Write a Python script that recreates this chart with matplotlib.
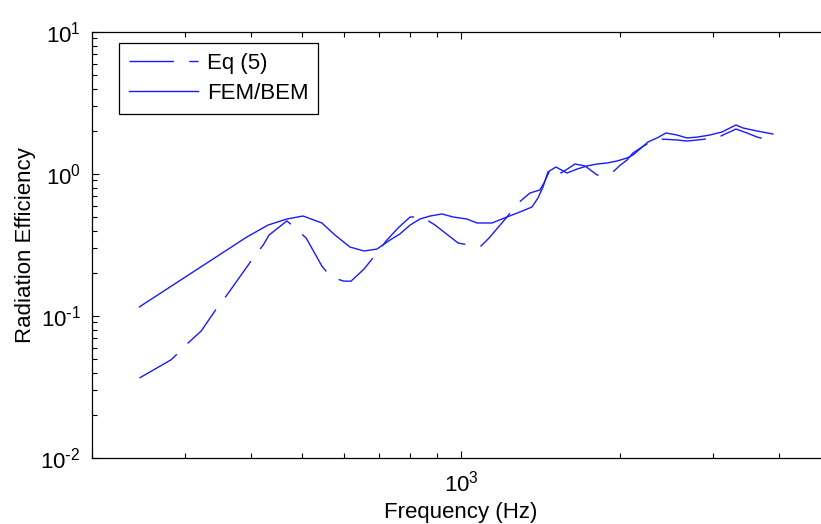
import matplotlib
matplotlib.use("Agg")
import numpy as np
import matplotlib.pyplot as plt
from matplotlib.ticker import NullFormatter, LogLocator, FuncFormatter

plt.rcParams['font.family'] = ['Liberation Sans', 'DejaVu Sans']
plt.rcParams['mathtext.default'] = 'regular'
plt.rcParams['axes.unicode_minus'] = False

# FEM/BEM curve (Hz, radiation efficiency)
fem_freq = [246, 393, 431, 468, 502, 545, 577, 616, 655, 693, 734, 766, 801,
            836, 874, 920, 966, 1026, 1072, 1145, 1222, 1293, 1363, 1399, 1430,
            1461, 1513, 1588, 1659, 1733, 1810, 1890, 1975, 2063, 2117, 2183,
            2260, 2350, 2445, 2565, 2680, 2811, 2962, 3121, 3232, 3317, 3420,
            3636, 3898]
fem_eff = [0.116, 0.360, 0.437, 0.482, 0.506, 0.452, 0.372, 0.306, 0.287, 0.296,
           0.343, 0.378, 0.437, 0.482, 0.506, 0.523, 0.498, 0.482, 0.452, 0.452,
           0.498, 0.540, 0.586, 0.678, 0.810, 1.033, 1.120, 1.016, 1.084, 1.139,
           1.176, 1.195, 1.235, 1.296, 1.361, 1.500, 1.680, 1.793, 1.944, 1.882,
           1.793, 1.822, 1.882, 1.976, 2.109, 2.214, 2.109, 2.008, 1.913]

# Eq (5) curve
eq_freq = [246, 282, 290, 304, 322, 345, 360, 404, 422, 433, 468, 483, 509, 545,
           567, 600, 619, 655, 693, 721, 760, 801, 844, 893, 987, 1054, 1091,
           1130, 1222, 1277, 1351, 1411, 1436, 1474, 1513, 1547, 1600, 1644, 1718,
           1810, 1890, 1949, 2000, 2063, 2117, 2202, 2300, 2382, 2470, 2565, 2680,
           2799, 2924, 3027, 3081, 3170, 3261, 3317, 3481, 3636, 3881]
eq_eff = [0.0366, 0.049, 0.054, 0.0645, 0.0784, 0.114, 0.140, 0.256, 0.316, 0.372,
          0.467, 0.423, 0.354, 0.225, 0.188, 0.176, 0.176, 0.214, 0.278, 0.337,
          0.417, 0.498, 0.498, 0.437, 0.327, 0.311, 0.311, 0.354, 0.498, 0.615,
          0.735, 0.772, 0.864, 1.067, 1.120, 1.016, 1.10, 1.176, 1.139, 0.984,
          0.984, 1.05, 1.15, 1.255, 1.405, 1.549, 1.707, 1.764, 1.75, 1.736, 1.707,
          1.736, 1.764, 1.764, 1.822, 1.92, 2.008, 2.075, 1.944, 1.822, 1.707]


def pow10(val, pos):
    n = int(round(np.log10(val)))
    if n < 0:
        return r'$10^{\text{-}%d}$' % (-n)
    return r'$10^{%d}$' % n


fig = plt.figure(figsize=(8.21, 5.24), dpi=100)
ax = fig.add_axes([92 / 821, 66 / 524, 738 / 821, 426 / 524])

ax.loglog(eq_freq, eq_eff, color='#1a1aff', lw=1.0, dashes=(32, 11), label='Eq (5)')
ax.loglog(fem_freq, fem_eff, color='#1a1aff', lw=1.0, label='FEM/BEM')

ax.set_xlim(200, 5000)
ax.set_ylim(1e-2, 1e1)
ax.xaxis.set_major_locator(LogLocator(base=10))
ax.xaxis.set_minor_locator(LogLocator(base=10, subs=range(2, 10)))
ax.xaxis.set_major_formatter(FuncFormatter(pow10))
ax.yaxis.set_major_formatter(FuncFormatter(pow10))
ax.xaxis.set_minor_formatter(NullFormatter())
ax.yaxis.set_minor_formatter(NullFormatter())

ax.tick_params(which='both', direction='in', top=True, right=True, labelsize=16)
ax.tick_params(axis='y', pad=8)
ax.tick_params(axis='x', pad=9)
ax.tick_params(which='major', length=5, width=0.8)
ax.tick_params(which='minor', length=3.5, width=0.8)
for s in ax.spines.values():
    s.set_linewidth(0.9)

ax.set_xlabel('Frequency (Hz)', fontsize=16, labelpad=4)
ax.set_ylabel('Radiation Efficiency', fontsize=16, labelpad=3)

leg = ax.legend(loc='upper left', fontsize=16, fancybox=False, framealpha=1,
                edgecolor='black', handlelength=3.1, handletextpad=0.4,
                labelspacing=0.4, borderpad=0.45, borderaxespad=0,
                bbox_to_anchor=(0.0366, 0.974))
leg.get_frame().set_linewidth(0.9)

fig.savefig('out.png', dpi=100)
